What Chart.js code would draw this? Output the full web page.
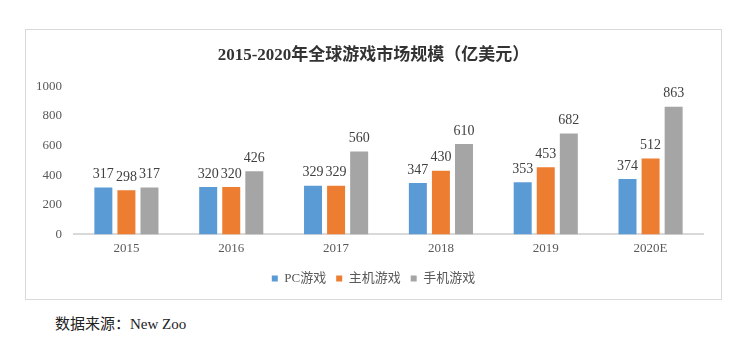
<!DOCTYPE html>
<html>
<head>
<meta charset="utf-8">
<script src="https://cdn.jsdelivr.net/npm/chart.js@4/dist/chart.umd.min.js"></script>
<style>
  body { margin: 0; background: #fff; width: 747px; height: 345px; position: relative; overflow: hidden; }
  #box { position: absolute; left: 25px; top: 29px; width: 697px; height: 271px; border: 1px solid #d9d9d9; box-sizing: border-box; }
  #box canvas { display: block; }
  #src { position: absolute; left: 55px; top: 312px; font: 15px "Liberation Serif", "Noto Sans CJK SC", serif; color: #222; }
</style>
</head>
<body>
<div id="box"><canvas id="gameChart" width="695" height="269"></canvas></div>
<div id="src">数据来源：New Zoo</div>
<script>
// data
const years = ['2015', '2016', '2017', '2018', '2019', '2020E'];
const pcGames = [317, 320, 329, 347, 353, 374];
const consoleGames = [298, 320, 329, 430, 453, 512];
const mobileGames = [317, 426, 560, 610, 682, 863];
const yTicks = [0, 200, 400, 600, 800, 1000];

const FONT = '"Liberation Serif", "Noto Sans CJK SC", serif';

// simple value labels on top of the bars
const barLabels = {
  id: 'barLabels',
  afterDatasetsDraw(chart) {
    const ctx = chart.ctx;
    ctx.save();
    ctx.font = '14px ' + FONT;
    ctx.fillStyle = '#404040';
    ctx.textAlign = 'center';
    ctx.textBaseline = 'bottom';
    chart.data.datasets.forEach((ds, i) => {
      chart.getDatasetMeta(i).data.forEach((bar, j) => {
        ctx.fillText(ds.data[j], bar.x, bar.y - 6);
      });
    });
    ctx.restore();
  }
};

new Chart(document.getElementById('gameChart'), {
  type: 'bar',
  data: {
    labels: years,
    datasets: [
      { label: 'PC游戏', data: pcGames, backgroundColor: '#5B9BD5' },
      { label: '主机游戏', data: consoleGames, backgroundColor: '#ED7D31' },
      { label: '手机游戏', data: mobileGames, backgroundColor: '#A5A5A5' }
    ]
  },
  options: {
    responsive: false,
    animation: false,
    categoryPercentage: 0.66,
    barPercentage: 0.78,
    layout: { padding: { left: 0, right: 0, top: 0, bottom: 4 } },
    scales: {
      x: {
        grid: { display: false, drawTicks: false },
        border: { color: '#d9d9d9', width: 2 },
        ticks: { font: { family: FONT, size: 13 }, color: '#595959', padding: 6, maxRotation: 0 }
      },
      y: {
        min: 0,
        max: 1000,
        afterBuildTicks: (s) => { s.ticks = yTicks.map(v => ({ value: v })); },
        afterFit: (s) => { s.width = 48; },
        grid: { display: false, drawTicks: false },
        border: { display: false },
        ticks: {
          font: { family: FONT, size: 13 }, color: '#595959', padding: 12,
          callback: (v) => String(v)
        }
      },
      // empty right axis, only keeps the plot off the right border
      yRight: {
        position: 'right',
        min: 0,
        max: 1000,
        afterFit: (s) => { s.width = 18; },
        grid: { display: false, drawTicks: false },
        border: { display: false },
        ticks: { display: false }
      }
    },
    plugins: {
      title: {
        display: true,
        text: '2015-2020年全球游戏市场规模（亿美元）',
        font: { family: FONT, size: 17, weight: 'bold' },
        color: '#333333',
        padding: { top: 15, bottom: 21 }
      },
      legend: {
        position: 'bottom',
        labels: {
          boxWidth: 6,
          boxHeight: 6,
          padding: 10,
          font: { family: FONT, size: 13 },
          color: '#595959'
        }
      },
      tooltip: { enabled: false }
    }
  },
  plugins: [barLabels]
});
</script>
</body>
</html>
